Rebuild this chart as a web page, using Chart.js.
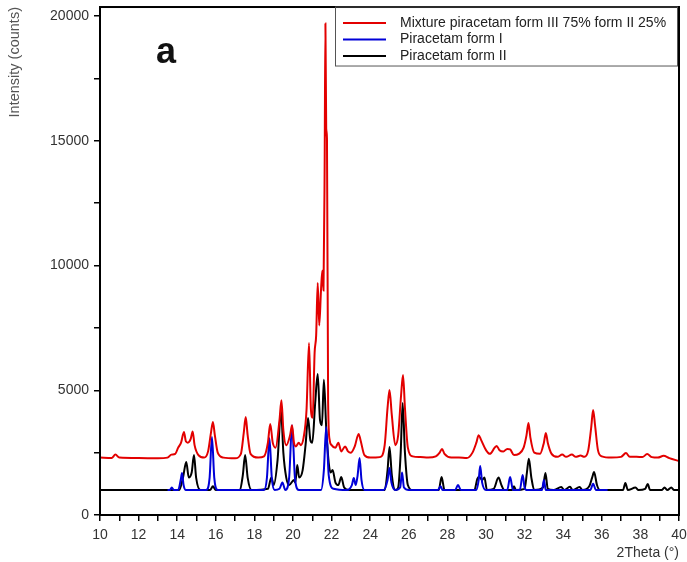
<!DOCTYPE html>
<html>
<head>
<meta charset="utf-8">
<title>Piracetam XRD</title>
<script src="https://cdn.jsdelivr.net/npm/chart.js@4.4.1/dist/chart.umd.min.js"></script>
<style>
    html, body { margin: 0; padding: 0; background: #fff; }
    canvas { display: block; }
</style>
</head>
<body>
<canvas id="xrdChart" width="687" height="562"></canvas>
<script>
// Difractogramas: [2theta, cuentas]
const mixturePoints = [
    [10.0, 2300], [10.6, 2280], [10.8, 2420], [11.0, 2300], [12.0, 2280], [13.0, 2270],
    [13.5, 2300], [13.7, 2420], [13.9, 2450], [14.05, 2700], [14.2, 2900], [14.35, 3330],
    [14.45, 2950], [14.55, 2900], [14.7, 3050], [14.8, 3350], [14.9, 2800], [15.1, 2400],
    [15.4, 2300], [15.6, 2550], [15.75, 3300], [15.85, 3730], [15.95, 3200], [16.1, 2500],
    [16.4, 2300], [17.0, 2270], [17.3, 2450], [17.45, 3300], [17.55, 3930], [17.65, 3200],
    [17.8, 2450], [18.2, 2300], [18.5, 2350], [18.7, 2900], [18.82, 3650], [18.95, 2900],
    [19.1, 2700], [19.3, 3800], [19.4, 4600], [19.5, 3400], [19.65, 2800], [19.85, 3200],
    [19.95, 3600], [20.05, 2900], [20.15, 2750], [20.3, 2900], [20.4, 2800], [20.55, 3100],
    [20.7, 4200], [20.83, 6890], [20.93, 4200], [21.02, 3900], [21.12, 6500], [21.2, 7200],
    [21.28, 9300], [21.36, 7600], [21.45, 9000], [21.52, 9800], [21.58, 9000], [21.64, 14000],
    [21.68, 19700], [21.72, 15500], [21.76, 15100], [21.82, 4500], [21.9, 3000], [22.0, 2800],
    [22.2, 2700], [22.35, 2900], [22.5, 2550], [22.7, 2750], [22.85, 2550], [23.0, 2500],
    [23.2, 2750], [23.4, 3250], [23.5, 3000], [23.7, 2400], [24.0, 2300], [24.5, 2320],
    [24.75, 2800], [24.9, 4300], [25.0, 5010], [25.12, 4000], [25.3, 2800], [25.45, 3200],
    [25.6, 4800], [25.7, 5610], [25.8, 4300], [25.95, 2700], [26.2, 2350], [26.6, 2320],
    [27.0, 2300], [27.4, 2350], [27.6, 2500], [27.72, 2650], [27.85, 2450], [28.2, 2300],
    [28.6, 2300], [29.0, 2280], [29.3, 2500], [29.5, 2900], [29.62, 3200], [29.75, 3000],
    [30.0, 2600], [30.2, 2450], [30.45, 2700], [30.55, 2770], [30.7, 2600], [30.9, 2550],
    [31.1, 2650], [31.25, 2630], [31.45, 2400], [31.7, 2450], [31.95, 2700], [32.1, 3200],
    [32.2, 3690], [32.3, 3100], [32.5, 2500], [32.8, 2450], [33.0, 2900], [33.1, 3290],
    [33.2, 2900], [33.4, 2450], [33.7, 2330], [33.95, 2420], [34.15, 2330], [34.45, 2420],
    [34.65, 2330], [34.9, 2380], [35.1, 2330], [35.3, 2600], [35.45, 3500], [35.55, 4210],
    [35.65, 3600], [35.8, 2600], [36.0, 2350], [36.5, 2300], [37.0, 2330], [37.25, 2480],
    [37.45, 2330], [37.8, 2330], [38.1, 2320], [38.35, 2440], [38.6, 2320], [38.9, 2300],
    [39.2, 2370], [39.5, 2280], [40.0, 2160]
];

const formIPoints = [
    [13.5, 1000], [13.62, 1000], [13.72, 1100], [13.82, 1000], [14.05, 1000], [14.18, 1400],
    [14.25, 1680], [14.33, 1200], [14.45, 1000], [15.5, 1000], [15.68, 1500], [15.8, 3130],
    [15.92, 1500], [16.1, 1000], [18.5, 1000], [18.65, 1500], [18.78, 3080], [18.9, 1500],
    [19.05, 1000], [19.3, 1050], [19.45, 1300], [19.6, 1000], [19.8, 1500], [19.95, 3600],
    [20.1, 1500], [20.3, 1000], [21.45, 1000], [21.6, 1800], [21.72, 3530], [21.85, 1600],
    [22.1, 1050], [22.8, 1000], [23.05, 1200], [23.15, 1480], [23.25, 1200], [23.35, 1600],
    [23.45, 2280], [23.55, 1400], [23.7, 1000], [24.7, 1000], [24.9, 1400], [25.0, 1880],
    [25.1, 1300], [25.3, 1000], [25.55, 1100], [25.65, 1700], [25.75, 1100], [26.0, 1000],
    [27.5, 1000], [27.65, 1150], [27.75, 1000], [28.4, 1000], [28.55, 1200], [28.7, 1000],
    [29.5, 1000], [29.62, 1400], [29.7, 1960], [29.8, 1300], [30.0, 1000], [31.1, 1000],
    [31.25, 1520], [31.4, 1000], [31.75, 1000], [31.9, 1600], [32.0, 1100], [32.1, 1000],
    [32.9, 1000], [33.0, 1400], [33.1, 1000], [35.4, 1000], [35.55, 1250], [35.7, 1000],
    [36.3, 1000]
];

const formIIPoints = [
    [10.0, 1000], [14.1, 1000], [14.3, 1500], [14.47, 2120], [14.6, 1500], [14.75, 1700],
    [14.87, 2400], [14.98, 1500], [15.2, 1000], [15.7, 1000], [15.85, 1150], [16.0, 1000],
    [17.25, 1000], [17.4, 1600], [17.52, 2400], [17.65, 1500], [17.85, 1000], [18.7, 1050],
    [18.88, 1500], [19.0, 1200], [19.2, 2200], [19.38, 4200], [19.5, 2500], [19.65, 1500],
    [19.8, 1200], [20.05, 1400], [20.12, 1300], [20.22, 2000], [20.32, 1500], [20.5, 1800],
    [20.65, 2800], [20.78, 3890], [20.9, 3000], [21.0, 2900], [21.15, 4500], [21.28, 5650],
    [21.4, 3800], [21.5, 3600], [21.6, 5420], [21.72, 3500], [21.85, 2100], [21.95, 1700],
    [22.05, 1800], [22.2, 1300], [22.35, 1200], [22.5, 1520], [22.65, 1100], [22.9, 1000],
    [24.75, 1000], [24.9, 1800], [25.0, 2730], [25.12, 1600], [25.3, 1000], [25.45, 1100],
    [25.58, 2500], [25.68, 4490], [25.8, 2500], [25.95, 1200], [26.2, 1000], [27.55, 1000],
    [27.7, 1520], [27.85, 1000], [29.4, 1000], [29.55, 1450], [29.65, 1520], [29.8, 1400],
    [29.92, 1500], [30.05, 1000], [30.4, 1050], [30.65, 1500], [30.8, 1200], [30.95, 1000],
    [31.35, 1000], [31.45, 1150], [31.55, 1000], [32.0, 1050], [32.12, 1700], [32.22, 2250],
    [32.35, 1500], [32.5, 1000], [32.95, 1100], [33.08, 1680], [33.2, 1050], [33.5, 1000],
    [33.9, 1120], [34.05, 1000], [34.35, 1130], [34.5, 1000], [34.85, 1120], [35.0, 1000],
    [35.35, 1150], [35.5, 1500], [35.6, 1720], [35.75, 1200], [35.9, 1000], [37.1, 1000],
    [37.22, 1280], [37.35, 1000], [37.75, 1100], [37.9, 1000], [38.25, 1050], [38.38, 1240],
    [38.5, 1000], [39.1, 1000], [39.25, 1100], [39.4, 1000], [39.6, 1100], [39.75, 1000],
    [40.0, 1000]
];

// Etiquetas de los ejes
const xTickLabels = [10, 12, 14, 16, 18, 20, 22, 24, 26, 28, 30, 32, 34, 36, 38, 40];
const yTickLabels = [0, 5000, 10000, 15000, 20000];

document.addEventListener('DOMContentLoaded', () => {
    const ctx = document.getElementById('xrdChart').getContext('2d');
    const fontFamily = '"Liberation Sans", Arial, sans-serif';
    Chart.defaults.font.family = fontFamily;

    const toXY = (points) => points.map(([x, y]) => ({ x, y }));

    // Marco del grafico, titulo del eje Y, letra "a" y leyenda
    const framePlugin = {
        id: 'frame',
        afterDraw(chart) {
            const { ctx, chartArea } = chart;
            const frameTop = chart.scales.y.getPixelForValue(20360);
            ctx.save();
            ctx.strokeStyle = '#000';
            ctx.lineWidth = 2;
            ctx.strokeRect(chartArea.left, frameTop, chartArea.right - chartArea.left, chartArea.bottom - frameTop);

            // Titulo vertical, alineado con el borde superior
            ctx.save();
            ctx.translate(15, frameTop);
            ctx.rotate(-Math.PI / 2);
            ctx.fillStyle = '#555';
            ctx.font = '14.5px ' + fontFamily;
            ctx.textAlign = 'right';
            ctx.textBaseline = 'middle';
            ctx.fillText('Intensity (counts)', 0, 0);
            ctx.restore();

            ctx.fillStyle = '#111';
            ctx.font = 'bold 36px ' + fontFamily;
            ctx.textBaseline = 'alphabetic';
            ctx.fillText('a', 156, 63);

            // Leyenda
            ctx.lineWidth = 1;
            ctx.strokeStyle = '#555';
            ctx.strokeRect(335.5, frameTop, 342, 59);
            ctx.font = '14px ' + fontFamily;
            ctx.textBaseline = 'middle';
            chart.data.datasets.forEach((ds, i) => {
                const y = 23 + i * 16.5;
                ctx.strokeStyle = ds.borderColor;
                ctx.lineWidth = 2;
                ctx.beginPath();
                ctx.moveTo(343, y);
                ctx.lineTo(386, y);
                ctx.stroke();
                ctx.fillStyle = '#222';
                ctx.fillText(ds.label, 400, y);
            });
            ctx.restore();
        }
    };

    new Chart(ctx, {
        type: 'line',
        data: {
            datasets: [
                {
                    label: 'Mixture piracetam form III 75% form II 25%',
                    data: toXY(mixturePoints),
                    borderColor: '#e30000',
                    order: 1
                },
                {
                    label: 'Piracetam form I',
                    data: toXY(formIPoints),
                    borderColor: '#0000d8',
                    order: 2
                },
                {
                    label: 'Piracetam form II',
                    data: toXY(formIIPoints),
                    borderColor: '#000000',
                    order: 3
                }
            ]
        },
        options: {
            responsive: false,
            animation: false,
            events: [],
            layout: { padding: { top: 16, right: 8, bottom: 0, left: 0 } },
            elements: {
                point: { radius: 0 },
                line: { borderWidth: 2, cubicInterpolationMode: 'monotone', fill: false }
            },
            plugins: {
                legend: { display: false },
                tooltip: { enabled: false }
            },
            scales: {
                x: {
                    type: 'linear',
                    min: 10,
                    max: 40,
                    afterFit: (scale) => {
                        scale.height = 47;
                        scale.paddingLeft = 0;
                        scale.paddingRight = 0;
                    },
                    ticks: {
                        stepSize: 1,
                        autoSkip: false,
                        maxRotation: 0,
                        padding: 6,
                        color: '#333',
                        font: { size: 14 },
                        callback: (value) => (xTickLabels.includes(value) ? value : '')
                    },
                    grid: { drawOnChartArea: false, tickLength: 6, color: '#000', lineWidth: 1.5 },
                    border: { display: true, color: '#000', width: 2 },
                    title: {
                        display: true,
                        text: '2Theta (°)',
                        align: 'end',
                        color: '#333',
                        font: { size: 14 },
                        padding: { top: 0, bottom: 0 }
                    }
                },
                y: {
                    min: 0,
                    max: 20000,
                    afterFit: (scale) => {
                        scale.width = 100;
                        scale.paddingTop = 0;
                        scale.paddingBottom = 0;
                    },
                    ticks: {
                        stepSize: 2500,
                        autoSkip: false,
                        padding: 5,
                        color: '#333',
                        font: { size: 14 },
                        callback: (value) => (yTickLabels.includes(value) ? value : '')
                    },
                    grid: { drawOnChartArea: false, tickLength: 6, color: '#000', lineWidth: 1.5 },
                    border: { display: true, color: '#000', width: 2 }
                }
            }
        },
        plugins: [framePlugin]
    });
});
</script>
</body>
</html>
